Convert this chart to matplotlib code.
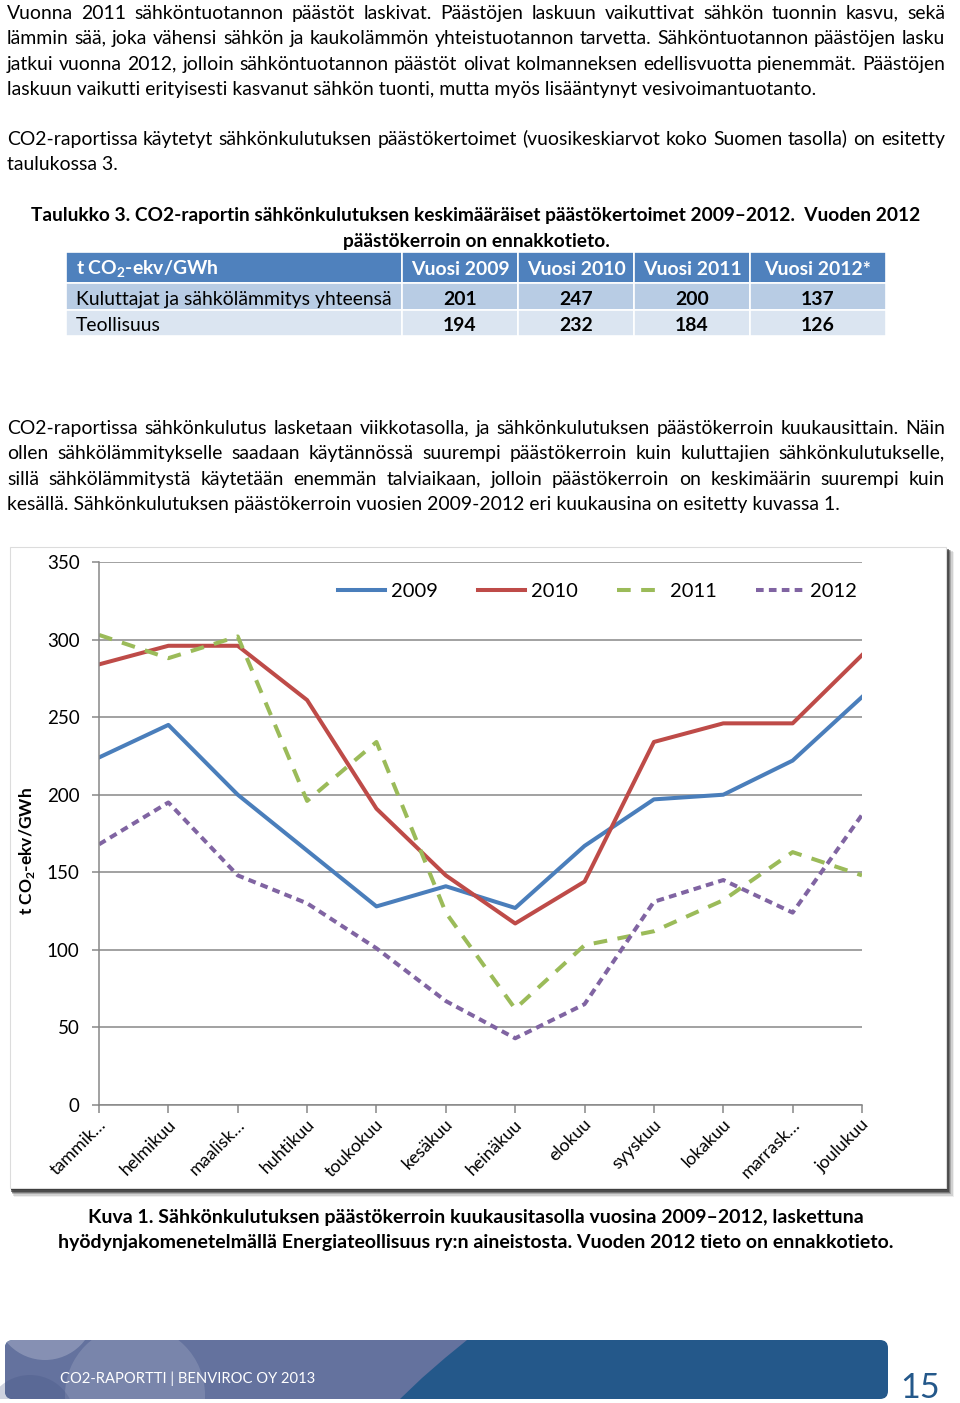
import numpy as np
import matplotlib
matplotlib.use('Agg')
import matplotlib.pyplot as plt
from matplotlib.patches import Rectangle, FancyBboxPatch, Circle, Polygon
from matplotlib.transforms import ScaledTranslation
from matplotlib.font_manager import FontProperties
from matplotlib.backends.backend_agg import get_hinting_flag

plt.rcParams['font.family'] = ['Lato', 'DejaVu Sans']
plt.rcParams['mathtext.fontset'] = 'custom'
plt.rcParams['mathtext.rm'] = 'Lato'
plt.rcParams['mathtext.bf'] = 'Lato:bold'

# --- data ---
months = ['tammik…', 'helmikuu', 'maalisk…', 'huhtikuu', 'toukokuu', 'kesäkuu',
          'heinäkuu', 'elokuu', 'syyskuu', 'lokakuu', 'marrask…', 'joulukuu']
years = ['2009', '2010', '2011', '2012']
v2009 = [224, 245, 200, 164, 128, 141, 127, 167, 197, 200, 222, 263]
v2010 = [284, 296, 296, 261, 191, 148, 117, 144, 234, 246, 246, 290]
v2011 = [303, 288, 302, 196, 234, 124, 62, 103, 112, 132, 163, 148]
v2012 = [168, 195, 148, 130, 101, 67, 43, 65, 131, 145, 124, 187]

table_head = ['t CO$_\\mathbf{2}$-ekv/GWh', 'Vuosi 2009', 'Vuosi 2010', 'Vuosi 2011', 'Vuosi 2012*']
table_rows = ['Kuluttajat ja sähkölämmitys yhteensä', 'Teollisuus']
kuluttajat = [201, 247, 200, 137]
teollisuus = [194, 232, 184, 126]

para1 = ['Vuonna 2011 sähköntuotannon päästöt laskivat. Päästöjen laskuun vaikuttivat sähkön tuonnin kasvu, sekä',
         'lämmin sää, joka vähensi sähkön ja kaukolämmön yhteistuotannon tarvetta. Sähköntuotannon päästöjen lasku',
         'jatkui vuonna 2012, jolloin sähköntuotannon päästöt olivat kolmanneksen edellisvuotta pienemmät. Päästöjen',
         'laskuun vaikutti erityisesti kasvanut sähkön tuonti, mutta myös lisääntynyt vesivoimantuotanto.']
para2 = ['CO2-raportissa käytetyt sähkönkulutuksen päästökertoimet (vuosikeskiarvot koko Suomen tasolla) on esitetty',
         'taulukossa 3.']
title = ['Taulukko 3. CO2-raportin sähkönkulutuksen keskimääräiset päästökertoimet 2009–2012.  Vuoden 2012',
         'päästökerroin on ennakkotieto.']
para3 = ['CO2-raportissa sähkönkulutus lasketaan viikkotasolla, ja sähkönkulutuksen päästökerroin kuukausittain. Näin',
         'ollen sähkölämmitykselle saadaan käytännössä suurempi päästökerroin kuin kuluttajien sähkönkulutukselle,',
         'sillä sähkölämmitystä käytetään enemmän talviaikaan, jolloin päästökerroin on keskimäärin suurempi kuin',
         'kesällä. Sähkönkulutuksen päästökerroin vuosien 2009-2012 eri kuukausina on esitetty kuvassa 1.']
caption = ['Kuva 1. Sähkönkulutuksen päästökerroin kuukausitasolla vuosina 2009–2012, laskettuna',
           'hyödynjakomenetelmällä Energiateollisuus ry:n aineistosta. Vuoden 2012 tieto on ennakkotieto.']

W, H = 960, 1403
fig = plt.figure(figsize=(9.6, 14.03), dpi=100)
page = fig.add_axes([0, 0, 1, 1])
page.set_xlim(0, W)
page.set_ylim(H, 0)
page.axis('off')
renderer = fig.canvas.get_renderer()


def width_of(s, size, weight='normal'):
    t = page.text(0, 0, s, fontsize=size, fontweight=weight)
    w = t.get_window_extent(renderer).width
    t.remove()
    return w


def fit(s, width, weight='normal'):
    return 10 * width / width_of(s, 10, weight)


def snap(s, y, size, weight):
    # agg rounds the glyph bitmap per string, so words on one line can
    # jump a pixel or two; shift each one so the baselines line up
    prop = FontProperties(family=plt.rcParams['font.family'], size=size, weight=weight)
    font = renderer._prepare_font(prop)
    font.set_text(s, 0, flags=get_hinting_flag())
    h = font.get_width_height()[1]
    d = font.get_descent()
    return round(y) + h // 64 - (h - d) // 64 - d / 64


def put(x, y, s, size, weight='normal', **kw):
    page.text(x, snap(s, y, size, weight), s, fontsize=size, fontweight=weight,
              va='baseline', **kw)


def justify(line, y, size, x0=7, x1=945, weight='normal'):
    words = line.split(' ')
    widths = [width_of(w, size, weight) for w in words]
    gap = (x1 - x0 - sum(widths)) / (len(words) - 1)
    x = x0
    for w, wd in zip(words, widths):
        put(x, y, w, size, weight)
        x += wd + gap


body = fit(para1[-1], 809)

# paragraph 1
for i, line in enumerate(para1):
    y = 19 + i * 25.3
    if i < len(para1) - 1:
        justify(line, y, body)
    else:
        put(7, y, line, body)

# paragraph 2
justify(para2[0], 145, body)
put(7, 170, para2[1], body)

# table title
tsize = fit(title[0], 892, 'bold')
put(476, 221, title[0], tsize, 'bold', ha='center')
put(476, 247, title[1], tsize, 'bold', ha='center')

# table
col_x = [66, 402, 518, 634, 750, 886]
row_y = [252, 283, 310, 336]
row_col = ['#4F81BD', '#B8CCE4', '#DBE5F1']
tab_size = fit(table_rows[0], 316)
for r in range(3):
    for c in range(5):
        page.add_patch(Rectangle((col_x[c], row_y[r]), col_x[c + 1] - col_x[c], row_y[r + 1] - row_y[r],
                                 facecolor=row_col[r], edgecolor='white', lw=1.2))
for c, h in enumerate(table_head):
    if c == 0:
        page.text(76, 275, h, fontsize=tab_size, fontweight='bold', color='white', va='baseline')
    else:
        put((col_x[c] + col_x[c + 1]) / 2, 275, h, tab_size, 'bold', color='white', ha='center')
for r, (name, vals) in enumerate(zip(table_rows, [kuluttajat, teollisuus])):
    yb = 305 + r * 26
    put(76, yb, name, tab_size)
    for c, v in enumerate(vals):
        put((col_x[c + 1] + col_x[c + 2]) / 2, yb, str(v), tab_size, 'bold', ha='center')

# paragraph 3
for i, line in enumerate(para3):
    y = 434 + i * 25.3
    if i < len(para3) - 1:
        justify(line, y, body)
    else:
        put(7, y, line, body)

# chart frame with shadow
for k, a in zip(range(6, 0, -1), [0.08, 0.15, 0.25, 0.4, 0.6, 0.8]):
    page.add_patch(Rectangle((10 + k * 0.6, 548 + k * 0.6), 936 + k * 0.7, 641 + k * 0.7,
                             facecolor='#303030', edgecolor='none', alpha=a))
page.add_patch(Rectangle((10, 547), 936, 641, facecolor='white', edgecolor='#dcdcdc', lw=0.8))

# y label
page.text(27, 851, 't CO$_\\mathbf{2}$-ekv/GWh', fontsize=12.5, fontweight='bold',
          rotation=90, ha='center', va='center')

# chart
ax = fig.add_axes([99 / W, 1 - 1105 / H, (862 - 99) / W, (1105 - 562) / H])
ax.set_facecolor('none')
x = np.arange(len(months))
ax.plot(x, v2009, color='#4A7EBB', lw=2.9, solid_joinstyle='round', label=years[0])
ax.plot(x, v2010, color='#BE4B48', lw=2.9, solid_joinstyle='round', label=years[1])
ax.plot(x, v2011, color='#9BBB59', lw=2.9, dashes=(3.4, 2.6), label=years[2])
ax.plot(x, v2012, color='#8064A2', lw=2.9, dashes=(1.9, 1.3), label=years[3])
ax.set_xlim(0, 11)
ax.set_ylim(0, 350)
ax.set_yticks(range(0, 351, 50))
ax.yaxis.grid(True, color='#878787', lw=1.1)
ax.set_axisbelow(True)
for s in ['top', 'right']:
    ax.spines[s].set_visible(False)
for s in ['left', 'bottom']:
    ax.spines[s].set_color('#878787')
    ax.spines[s].set_linewidth(1.1)
ax.tick_params(axis='y', length=5, width=1.1, color='#878787', pad=9, labelsize=13.5)
ax.tick_params(axis='x', length=6, width=1.1, color='#878787', pad=2, labelsize=12.8)
ax.set_xticks(x)
ax.set_xticklabels(months, rotation=45, ha='right', va='top', rotation_mode='anchor')
for lab in ax.get_xticklabels():
    lab.set_transform(lab.get_transform() + ScaledTranslation(-0.01, 0, fig.dpi_scale_trans))
ax.legend(ncol=4, loc='center right', bbox_to_anchor=(0.993, 0.946), frameon=False, fontsize=14.5,
          handlelength=2.35, handletextpad=0.3, columnspacing=1.95, borderaxespad=0, borderpad=0)

# caption
csize = fit(caption[1], 834, 'bold')
put(476, 1223, caption[0], csize, 'bold', ha='center')
put(476, 1248, caption[1], csize, 'bold', ha='center')

# footer band
band = FancyBboxPatch((5, 1340), 883, 59, boxstyle='round,pad=0,rounding_size=8',
                      facecolor='#24588A', edgecolor='none')
page.add_patch(band)
left = Polygon([(0, 1340), (467, 1340), (445, 1358), (422, 1378), (400, 1399), (0, 1399)],
               facecolor='#64729E', edgecolor='none')
page.add_patch(left)
left.set_clip_path(band)
for cx, cy, r, a in [(135, 1395, 70, 0.14), (45, 1310, 50, 0.22), (30, 1420, 45, -1)]:
    if a > 0:
        c = Circle((cx, cy), r, facecolor='white', alpha=a, edgecolor='none')
    else:
        c = Circle((cx, cy), r, facecolor='#3f4f80', alpha=0.25, edgecolor='none')
    page.add_patch(c)
    c.set_clip_path(left)
foot = 'CO2-RAPORTTI | BENVIROC OY 2013'
put(60, 1383, foot, fit(foot, 253), color='white')
put(920, 1398, '15', fit('15', 40), color='#24588A', ha='center')

fig.savefig('out.png', dpi=100)
